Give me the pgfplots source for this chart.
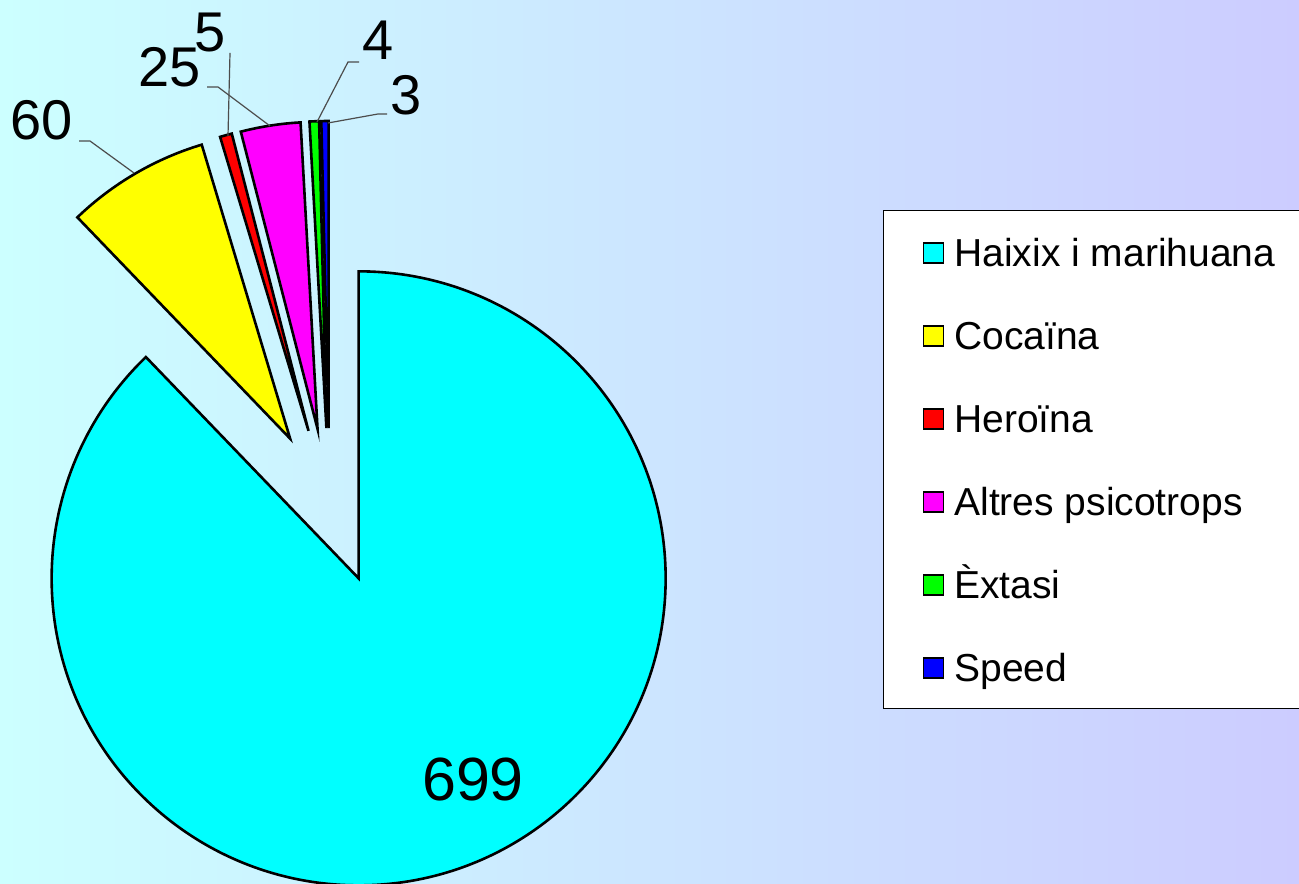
\documentclass[border=0pt]{standalone}
\usepackage{fontspec}
\setmainfont{Liberation Sans}
\usepackage{pgfplots}
\usepackage{pgfplotstable}
\pgfplotsset{compat=1.18}
\definecolor{pcyan}{RGB}{0,255,255}
\definecolor{pyellow}{RGB}{255,255,0}
\definecolor{pred}{RGB}{255,0,0}
\definecolor{pmagenta}{RGB}{255,0,255}
\definecolor{pgreen}{RGB}{0,255,0}
\definecolor{pblue}{RGB}{0,0,255}

\pgfplotstableread{
value color
699 pcyan
60 pyellow
5 pred
25 pmagenta
4 pgreen
3 pblue
}\pietable

\begin{document}
\begin{tikzpicture}
\useasboundingbox (0,0) rectangle (649.5pt,441.5pt);
\clip (0,0) rectangle (649.5pt,441.5pt);
\shade[left color={rgb,255:red,204;green,255;blue,255}, right color={rgb,255:red,204;green,204;blue,255}] (0,0) rectangle (649.5pt,441.5pt);
\begin{axis}[
  scale only axis, width=649.5pt, height=441.5pt,
  xmin=0, xmax=1299, ymin=0, ymax=883,
  hide axis, clip=false,
  legend image code/.code={\draw[#1, line width=0.9pt] (0pt,-5.5pt) rectangle (10pt,4.5pt);},
  legend cell align=left,
  legend style={at={(axis cs:883,673)}, anchor=north west, draw=black, line width=0.6pt, fill=white,
    font=\fontsize{19.5}{23}\selectfont,
    inner xsep=19.5pt, inner ysep=10.75pt, row sep=21.5pt, column sep=5pt,
    nodes={inner sep=0pt, text height=17pt, text depth=3pt}},
]
\pgfmathsetmacro{\pietotal}{0}
\pgfplotsforeachungrouped \rowi in {0,...,5}{%
  \pgfplotstablegetelem{\rowi}{value}\of\pietable
  \pgfmathsetmacro{\pietotal}{\pietotal+\pgfplotsretval}%
}
\pgfmathsetmacro{\degper}{360/\pietotal}
\def\pcx{329.5}\def\pcy{377}\def\dexp{78}\def\prad{153.5}
\pgfmathsetmacro{\cum}{0}
\pgfplotsforeachungrouped \rowi in {0,...,5}{%
  \pgfplotstablegetelem{\rowi}{value}\of\pietable
  \let\val\pgfplotsretval
  \pgfplotstablegetelem{\rowi}{color}\of\pietable
  \let\scol\pgfplotsretval
  \pgfmathsetmacro{\aone}{90-\degper*\cum}%
  \pgfmathsetmacro{\atwo}{90-\degper*(\cum+\val)}%
  \pgfmathsetmacro{\amid}{(\aone+\atwo)/2}%
  \pgfmathsetmacro{\qx}{\pcx+\dexp*cos(\amid)}%
  \pgfmathsetmacro{\qy}{\pcy+\dexp*sin(\amid)}%
  \edef\temp{\noexpand\filldraw[fill=\scol, draw=black, line width=1.3pt, line join=miter, miter limit=20] (axis cs:\qx,\qy) -- ++(\aone:\prad pt) arc[start angle=\aone, end angle=\atwo, radius=\prad pt] -- cycle;}%
  \temp
  \pgfmathsetmacro{\cum}{\cum+\val}%
}
% leader lines
\draw[black!70, line width=0.6pt] (axis cs:79,742) -- (axis cs:90,742) -- (axis cs:134,710);
\draw[black!70, line width=0.6pt] (axis cs:207,796) -- (axis cs:218,796) -- (axis cs:270,757);
\draw[black!70, line width=0.6pt] (axis cs:230,830) -- (axis cs:228,747);
\draw[black!70, line width=0.6pt] (axis cs:359,821) -- (axis cs:348,821) -- (axis cs:317,761);
\draw[black!70, line width=0.6pt] (axis cs:387,769) -- (axis cs:378,769) -- (axis cs:328,760);
% value labels
\node[inner sep=0pt, font=\fontsize{28}{30}\selectfont] at (axis cs:42,763) {60};
\node[inner sep=0pt, font=\fontsize{28}{30}\selectfont] at (axis cs:170,816) {25};
\node[inner sep=0pt, font=\fontsize{28}{30}\selectfont] at (axis cs:210,850) {5};
\node[inner sep=0pt, font=\fontsize{28}{30}\selectfont] at (axis cs:378,843) {4};
\node[inner sep=0pt, font=\fontsize{28}{30}\selectfont] at (axis cs:406,788) {3};
\node[inner sep=0pt, font=\fontsize{30.5}{32}\selectfont] at (axis cs:473,103) {699};
% legend
\addlegendimage{fill=pcyan, draw=black}
\addlegendentry{Haixix i marihuana}
\addlegendimage{fill=pyellow, draw=black}
\addlegendentry{Cocaïna}
\addlegendimage{fill=pred, draw=black}
\addlegendentry{Heroïna}
\addlegendimage{fill=pmagenta, draw=black}
\addlegendentry{Altres psicotrops}
\addlegendimage{fill=pgreen, draw=black}
\addlegendentry{Èxtasi}
\addlegendimage{fill=pblue, draw=black}
\addlegendentry{Speed}
\end{axis}
\end{tikzpicture}
\end{document}
